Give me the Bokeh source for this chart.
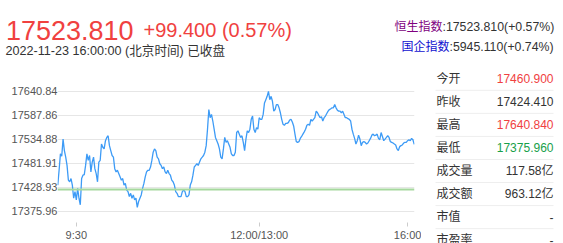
from bokeh.plotting import figure
from bokeh.models import Range1d, FixedTicker, Span
from bokeh.layouts import column, row
from bokeh.embed import file_html
from bokeh.resources import INLINE
from bokeh.core.properties import value

# ---------------- data ----------------
price_last = "17523.810"
price_change = "+99.400 (0.57%)"
quote_time = "2022-11-23 16:00:00 (北京时间) 已收盘"
index_names = ["恒生指数", "国企指数"]
index_quotes = [":17523.810(+0.57%)", ":5945.110(+0.74%)"]

stat_labels = ["今开", "昨收", "最高", "最低", "成交量", "成交额", "市值", "市盈率"]
stat_values = ["17460.900", "17424.410", "17640.840", "17375.960",
               "117.58亿", "963.12亿", "-", "-"]
stat_kind = ["up", "flat", "up", "down", "flat", "flat", "flat", "flat"]

prev_close = 17424.41
y_ticks = [17375.960, 17428.936, 17481.912, 17534.888, 17587.864, 17640.840]
y_tick_labels = ["17375.96", "17428.93", "17481.91", "17534.88", "17587.86", "17640.84"]
x_tick_pos = [14, 152, 264]
x_tick_labels = ["9:30", "12:00/13:00", "16:00"]

hsi_level = [
    17434.0, 17466.7, 17502.9, 17497.9, 17535.6, 17510.2, 17495.6, 17477.5, 17444.9, 17441.3,
    17448.5, 17434.0, 17405.0, 17419.5, 17401.3, 17426.8, 17405.0, 17390.5, 17448.5, 17455.8,
    17457.2, 17477.5, 17502.9, 17488.4, 17499.3, 17463.0, 17484.8, 17495.6, 17470.3, 17459.4,
    17441.3, 17484.8, 17488.4, 17524.7, 17517.5, 17513.8, 17532.0, 17539.2, 17542.9, 17521.1,
    17510.2, 17499.3, 17495.6, 17470.3, 17463.0, 17466.7, 17459.4, 17452.2, 17444.9, 17448.5,
    17434.0, 17437.6, 17423.1, 17419.5, 17408.6, 17415.8, 17405.0, 17412.2, 17401.3, 17405.0,
    17384.7, 17397.7, 17405.0, 17412.2, 17426.8, 17437.6, 17452.2, 17463.0, 17466.7, 17466.7,
    17473.9, 17488.4, 17506.6, 17513.8, 17510.2, 17495.6, 17492.0, 17481.1, 17477.5, 17470.3,
    17473.9, 17463.0, 17459.4, 17466.7, 17459.4, 17455.8, 17444.9, 17441.3, 17434.0, 17419.5,
    17415.8, 17408.6, 17408.6, 17408.6, 17419.5, 17423.1, 17419.5, 17408.6, 17408.6, 17412.2,
    17434.0, 17441.3, 17455.8, 17473.9, 17477.5, 17481.1, 17477.5, 17484.8, 17492.0, 17495.6,
    17499.3, 17506.6, 17521.1, 17557.4, 17600.9, 17582.8, 17590.0, 17575.5, 17557.4, 17539.2,
    17532.0, 17524.7, 17513.8, 17495.6, 17492.0, 17513.8, 17539.2, 17528.4, 17532.0, 17524.7,
    17517.5, 17502.9, 17499.3, 17499.3, 17506.6,
    17550.1, 17553.8, 17546.5, 17539.2, 17542.9, 17528.4, 17510.2, 17535.6, 17553.8, 17550.1,
    17557.4, 17579.2, 17586.4, 17557.4, 17550.1, 17561.0, 17557.4, 17582.8, 17579.2, 17579.2,
    17590.0, 17615.4, 17622.7, 17630.0, 17640.8, 17622.7, 17630.0, 17619.1, 17597.3, 17600.9,
    17611.8, 17611.8, 17604.6, 17593.7, 17579.2, 17568.2, 17566.1, 17570.4, 17570.4, 17571.9,
    17577.7, 17579.2, 17573.3, 17564.6, 17546.5, 17529.8, 17528.4, 17529.8, 17537.1, 17541.4,
    17546.5, 17551.6, 17557.4, 17566.1, 17568.2, 17566.1, 17579.2, 17575.5, 17579.2, 17582.8,
    17597.3, 17593.7, 17587.9, 17582.8, 17585.0, 17575.5, 17582.8, 17586.4, 17592.2, 17597.3,
    17600.9, 17602.4, 17604.6, 17604.6, 17611.8, 17604.6, 17599.5, 17597.3, 17597.3, 17593.7,
    17597.3, 17590.0, 17582.8, 17582.8, 17580.6, 17579.2, 17575.5, 17557.4, 17546.5, 17537.1,
    17524.7, 17532.0, 17544.3, 17535.6, 17521.1, 17528.4, 17529.8, 17528.4, 17524.7, 17526.9,
    17532.0, 17537.1, 17544.3, 17546.5, 17542.9, 17544.3, 17546.5, 17537.1, 17534.2, 17550.1,
    17541.4, 17532.0, 17535.6, 17539.2, 17542.9, 17539.2, 17529.8, 17528.4, 17526.9, 17524.7,
    17522.6, 17513.8, 17510.2, 17518.9, 17521.1, 17522.6, 17526.9, 17528.4, 17528.4, 17532.0,
    17534.2, 17532.0, 17537.1, 17534.2, 17523.8,
]

# ---------------- style ----------------
FONT = "'Liberation Sans', Arial, 'Noto Sans CJK SC', sans-serif"
RED = "#f0413f"
GREEN = "#18a04a"
DARK = "#333333"
KIND_COLOR = {"up": RED, "down": GREEN, "flat": DARK}


def blank(width, height, x_range, y_range):
    f = figure(width=width, height=height, x_range=x_range, y_range=y_range,
               toolbar_location=None, output_backend="svg", min_border=0,
               x_axis_location=None, y_axis_location=None)
    f.grid.visible = False
    f.outline_line_color = None
    f.background_fill_color = "white"
    f.border_fill_color = "white"
    f.frame_align = False
    return f


# ---------------- header ----------------
head = blank(563, 62, Range1d(0, 563), Range1d(62, 0))
head.text(x=[5.5], y=[30], text=[price_last], text_font=value(FONT),
          text_font_size=value("27px"), text_color=RED, text_baseline="alphabetic")
head.text(x=[143], y=[29], text=[price_change], text_font=value(FONT),
          text_font_size=value("20px"), text_color=RED, text_baseline="alphabetic")
head.text(x=[5], y=[50], text=[quote_time], text_font=value(FONT),
          text_font_size=value("12.6px"), text_color=DARK, text_baseline="alphabetic")
head.text(x=[442, 449], y=[26, 46.5], text=index_quotes, text_font=value(FONT),
          text_font_size=value("12.3px"), text_color=DARK, text_align="left",
          text_baseline="alphabetic")
head.text(x=[442, 449], y=[26, 46.5], text=index_names, text_font=value(FONT),
          text_font_size=value("12px"), text_color=["#800080", "#1010d0"],
          text_align="right", text_baseline="alphabetic")

# ---------------- chart ----------------
n = len(hsi_level)
p = figure(width=421, height=181, x_range=Range1d(-0.2, n - 1 + 0.2),
           y_range=Range1d(17351.36, 17651.72), toolbar_location=None,
           output_backend="svg", min_border_left=57, min_border_right=7,
           min_border_top=24, min_border_bottom=19)
p.frame_align = False
p.outline_line_color = None
p.background_fill_color = "white"
p.border_fill_color = "white"
p.xgrid.visible = False
p.ygrid.grid_line_color = "#e6e6e6"
p.ygrid.grid_line_width = 1

p.yaxis.ticker = FixedTicker(ticks=y_ticks)
p.yaxis.major_label_overrides = {t: s for t, s in zip(y_ticks, y_tick_labels)}
p.yaxis.axis_line_color = None
p.yaxis.major_tick_line_color = None
p.yaxis.minor_tick_line_color = None
p.yaxis.major_label_standoff = -6
p.yaxis.major_label_text_font = FONT
p.yaxis.major_label_text_font_size = "11px"
p.yaxis.major_label_text_color = "#555555"

p.xaxis.ticker = FixedTicker(ticks=x_tick_pos)
p.xaxis.major_label_overrides = {t: s for t, s in zip(x_tick_pos, x_tick_labels)}
p.xaxis.axis_line_color = None
p.xaxis.major_tick_line_color = "#cccccc"
p.xaxis.major_tick_in = 0
p.xaxis.major_tick_out = 4
p.xaxis.minor_tick_line_color = None
p.xaxis.major_label_standoff = 2
p.xaxis.major_label_text_font = FONT
p.xaxis.major_label_text_font_size = "11px"
p.xaxis.major_label_text_color = "#555555"

p.add_layout(Span(location=prev_close, dimension="width",
                  line_color="#a6d89e", line_width=2))
p.line(x=list(range(n)), y=hsi_level, line_color="#3d9bf6", line_width=1.3)

# ---------------- stats table ----------------
rows = list(range(len(stat_labels)))
tab = blank(142, 181, Range1d(421, 563), Range1d(7.145, -0.707))
tab.segment(x0=[435] * (len(rows) - 1), x1=[553] * (len(rows) - 1),
            y0=[r + 0.5 for r in rows[:-1]], y1=[r + 0.5 for r in rows[:-1]],
            line_color="#eeeeee", line_width=1)
tab.text(x=[436] * len(rows), y=rows, text=stat_labels, text_font=value(FONT),
         text_font_size=value("12px"), text_color=DARK, text_baseline="middle")
tab.text(x=[553] * len(rows), y=rows, text=stat_values, text_font=value(FONT),
         text_font_size=value("12px"), text_color=[KIND_COLOR[k] for k in stat_kind],
         text_align="right", text_baseline="middle")

layout = column(head, row(p, tab, spacing=0), spacing=0)
open("out.html", "w").write(file_html(layout, INLINE))
